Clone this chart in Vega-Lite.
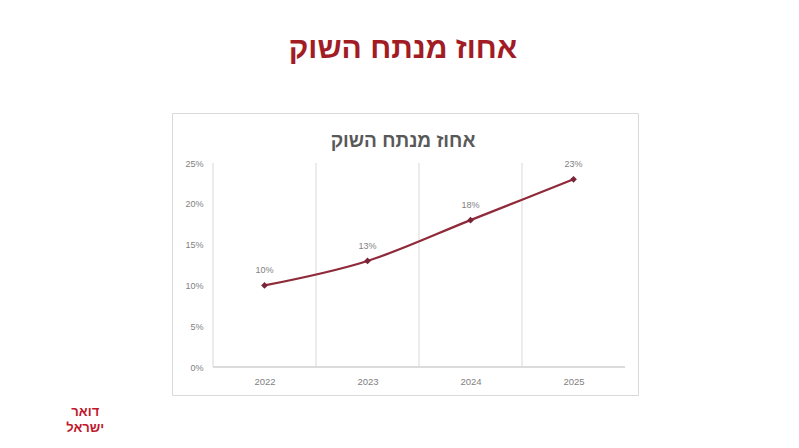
{
  "$schema": "https://vega.github.io/schema/vega-lite/v6.json",
  "autosize": {"type": "none"},
  "width": 466,
  "height": 282,
  "padding": {"left": 172, "top": 113, "right": 161, "bottom": 53},
  "background": "white",
  "config": {
    "view": {"stroke": "#d9d9d9", "strokeWidth": 1},
    "font": "Liberation Sans"
  },
  "title": {
    "text": "אחוז מנתח השוק",
    "subtitle": "אחוז מנתח השוק",
    "anchor": "middle",
    "dx": -2,
    "offset": -38,
    "subtitlePadding": 68,
    "font": "Liberation Sans",
    "fontSize": 30,
    "fontWeight": "bold",
    "color": "#a11c24",
    "subtitleFont": "Liberation Sans",
    "subtitleFontSize": 19,
    "subtitleFontWeight": "bold",
    "subtitleColor": "#595959"
  },
  "datasets": {
    "share": [
      {"year": 2022, "share": 0.10},
      {"year": 2023, "share": 0.13},
      {"year": 2024, "share": 0.18},
      {"year": 2025, "share": 0.23}
    ],
    "bands": [
      {"edge": 2021.5},
      {"edge": 2022.5},
      {"edge": 2023.5},
      {"edge": 2024.5}
    ],
    "logo": [
      {"name": "דואר ישראל"}
    ]
  },
  "layer": [
    {
      "data": {"name": "bands"},
      "mark": {"type": "rule", "color": "#d9d9d9", "strokeWidth": 1},
      "encoding": {
        "x": {"field": "edge", "type": "quantitative", "scale": {"domain": [2021.102, 2025.626], "nice": false, "zero": false},
          "axis": {"orient": "bottom", "offset": -28, "values": [2022, 2023, 2024, 2025], "format": "d", "title": null, "grid": false, "domain": false, "ticks": false, "labelPadding": 9, "labelFontSize": 9.5, "labelColor": "#7f7f7f", "labelFont": "Liberation Sans"}},
        "y": {"datum": 0, "type": "quantitative", "scale": {"domain": [-0.0343, 0.3113], "nice": false, "zero": false},
          "axis": {"orient": "left", "offset": -41, "values": [0, 0.05, 0.1, 0.15, 0.2, 0.25], "format": ".0%", "title": null, "grid": false, "domain": false, "ticks": false, "labelPadding": 10, "labelFontSize": 9, "labelColor": "#7f7f7f", "labelFont": "Liberation Sans"}},
        "y2": {"datum": 0.25}
      }
    },
    {
      "data": {"name": "share"},
      "mark": {"type": "rule", "color": "#d9d9d9", "strokeWidth": 1},
      "encoding": {
        "x": {"datum": 2021.5, "type": "quantitative"},
        "x2": {"datum": 2025.5},
        "y": {"datum": 0, "type": "quantitative"}
      }
    },
    {
      "data": {"name": "share"},
      "mark": {"type": "line", "color": "#8e2a3a", "strokeWidth": 2.2, "interpolate": "monotone"},
      "encoding": {
        "x": {"field": "year", "type": "quantitative"},
        "y": {"field": "share", "type": "quantitative"}
      }
    },
    {
      "data": {"name": "share"},
      "mark": {"type": "point", "shape": "diamond", "filled": true, "size": 45, "color": "#7a2438", "opacity": 1},
      "encoding": {
        "x": {"field": "year", "type": "quantitative"},
        "y": {"field": "share", "type": "quantitative"}
      }
    },
    {
      "data": {"name": "share"},
      "mark": {"type": "text", "dy": -15, "fontSize": 9, "color": "#7f7f7f", "font": "Liberation Sans"},
      "encoding": {
        "x": {"field": "year", "type": "quantitative"},
        "y": {"field": "share", "type": "quantitative"},
        "text": {"field": "share", "type": "quantitative", "format": ".0%"}
      }
    },
    {
      "data": {"name": "logo"},
      "mark": {"type": "text", "fontSize": 13, "fontWeight": "bold", "color": "#c0182c", "font": "Liberation Sans", "lineBreak": " ", "lineHeight": 16, "align": "center", "baseline": "middle"},
      "encoding": {
        "x": {"datum": 2020.26, "type": "quantitative"},
        "y": {"datum": -0.055, "type": "quantitative"},
        "text": {"field": "name"}
      }
    }
  ]
}
